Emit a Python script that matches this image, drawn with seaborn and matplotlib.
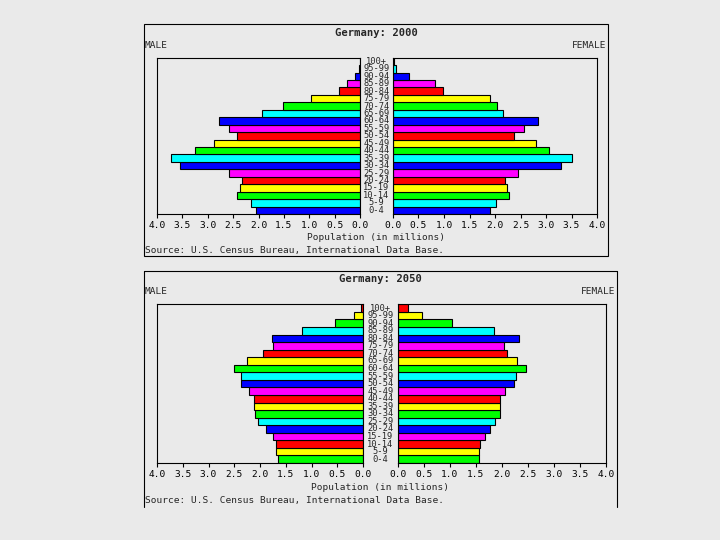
import matplotlib
matplotlib.use("Agg")
import matplotlib.pyplot as plt
import matplotlib.transforms as mtransforms
from matplotlib.patches import Rectangle
from matplotlib.lines import Line2D
import seaborn as sns
import pandas as pd

ages = ["0-4", "5-9", "10-14", "15-19", "20-24", "25-29", "30-34", "35-39",
        "40-44", "45-49", "50-54", "55-59", "60-64", "65-69", "70-74",
        "75-79", "80-84", "85-89", "90-94", "95-99", "100+"]

male_2000 = [2.04, 2.15, 2.43, 2.37, 2.33, 2.59, 3.55, 3.73, 3.26, 2.87, 2.43,
             2.59, 2.77, 1.94, 1.51, 0.96, 0.42, 0.26, 0.09, 0.02, 0.005]
female_2000 = [1.91, 2.02, 2.27, 2.23, 2.20, 2.45, 3.30, 3.50, 3.06, 2.80, 2.38,
               2.57, 2.85, 2.16, 2.04, 1.90, 0.98, 0.82, 0.31, 0.06, 0.01]
male_2050 = [1.66, 1.68, 1.69, 1.75, 1.88, 2.03, 2.09, 2.11, 2.11, 2.22, 2.36,
             2.37, 2.50, 2.26, 1.95, 1.74, 1.76, 1.19, 0.54, 0.17, 0.04]
female_2050 = [1.57, 1.57, 1.59, 1.67, 1.77, 1.88, 1.96, 1.97, 1.97, 2.07, 2.23,
               2.28, 2.46, 2.30, 2.10, 2.05, 2.33, 1.86, 1.05, 0.47, 0.19]

cycle = ["#0000FF", "#00FFFF", "#00FF00", "#FFFF00", "#FF0000", "#FF00FF"]
colors_2000 = [cycle[i % 6] for i in range(len(ages))]
colors_2050 = [cycle[(i + 2) % 6] for i in range(len(ages))]

tick_vals = [0.0, 0.5, 1.0, 1.5, 2.0, 2.5, 3.0, 3.5, 4.0]
tick_labels = ["%.1f" % v for v in tick_vals]

BG = "#EAEAEA"
sns.set_theme(style="white")
plt.rcParams["font.family"] = ["DejaVu Sans Mono", "DejaVu Sans"]
FS = 6.8
FS_TITLE = 7.6
FS_AGE = 6.3

fig = plt.figure(figsize=(7.2, 5.4), dpi=100, facecolor=BG)
W, H = 720.0, 540.0


def fx(px):
    return px / W


def fy(py):
    return 1 - py / H


def make_axes(x0, x1, y0, y1):
    return fig.add_axes([fx(x0), fy(y1), fx(x1) - fx(x0), (y1 - y0) / H])


def draw_side(ax, values, colors, left):
    order = ages[::-1]
    df = pd.DataFrame({"age": ages, "pop": values})
    pal = dict(zip(ages, colors))
    sns.barplot(data=df, x="pop", y="age", hue="age", order=order,
                hue_order=ages, palette=pal, legend=False, width=1.0,
                edgecolor="black", linewidth=0.8, saturation=1, ax=ax)
    ax.set_facecolor(BG)
    ax.set_xlim((4.0, 0.0) if left else (0.0, 4.0))
    ax.set_ylim(len(ages) - 0.5, -0.5)
    ax.set_xticks(tick_vals)
    ax.set_xticklabels(tick_labels, fontsize=FS)
    ax.set_yticks([])
    ax.set_xlabel("")
    ax.set_ylabel("")
    ax.tick_params(axis="x", direction="out", length=3, width=0.8, pad=2,
                   bottom=True, colors="black")
    for s in ax.spines.values():
        s.set_color("black")
        s.set_linewidth(0.8)
        s.set_visible(True)


def pyramid(year, male, female, colors, box, lax, rax, title_y, sub_y,
            pop_y, src_y, center_x, bottom_line):
    axl = make_axes(*lax)
    axr = make_axes(*rax)
    draw_side(axl, male, colors, True)
    draw_side(axr, female, colors, False)
    bx0, bx1, by0, by1 = box
    if bottom_line:
        fig.patches.append(Rectangle((fx(bx0), fy(by1)), fx(bx1) - fx(bx0),
                                     (by1 - by0) / H, fill=False,
                                     edgecolor="black", linewidth=0.8,
                                     transform=fig.transFigure))
    else:
        for xs, ys in [((bx0, bx0), (by1, by0)), ((bx0, bx1), (by0, by0)),
                       ((bx1, bx1), (by0, by1))]:
            fig.lines.append(Line2D([fx(v) for v in xs], [fy(v) for v in ys],
                                    color="black", linewidth=0.8,
                                    transform=fig.transFigure))
    fig.text(fx(center_x), fy(title_y), "Germany: %s" % year, ha="center",
             va="center", fontsize=FS_TITLE, fontweight="bold")
    fig.text(fx(bx0 + 1), fy(sub_y), "MALE", ha="left", va="center", fontsize=FS)
    fig.text(fx(bx1 - 2), fy(sub_y), "FEMALE", ha="right", va="center",
             fontsize=FS)
    fig.text(fx(center_x), fy(pop_y), "Population (in millions)", ha="center",
             va="center", fontsize=FS)
    fig.text(fx(bx0 + 1), fy(src_y),
             "Source: U.S. Census Bureau, International Data Base.",
             ha="left", va="center", fontsize=FS)
    trans = mtransforms.blended_transform_factory(fig.transFigure, axr.transData)
    lab_x = fx((lax[1] + rax[0]) / 2.0)
    for i, a in enumerate(ages[::-1]):
        fig.text(lab_x, i, a, transform=trans, ha="center", va="center",
                 fontsize=FS_AGE, linespacing=1.0)


pyramid("2000", male_2000, female_2000, colors_2000,
        box=(144, 608, 24, 256),
        lax=(157, 360, 57.7, 214), rax=(393, 597, 57.7, 214),
        title_y=33, sub_y=45, pop_y=237, src_y=250,
        center_x=376, bottom_line=True)

pyramid("2050", male_2050, female_2050, colors_2050,
        box=(144, 617, 270.5, 507),
        lax=(157, 363, 304.3, 463), rax=(397.7, 605.7, 304.3, 463),
        title_y=279, sub_y=292, pop_y=487, src_y=500,
        center_x=380, bottom_line=False)

fig.savefig("out.png", dpi=100, facecolor=BG)
